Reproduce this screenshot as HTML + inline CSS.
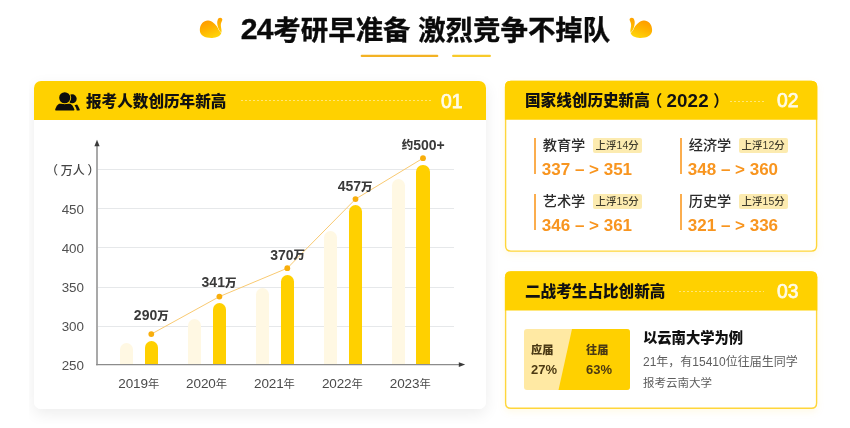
<!DOCTYPE html>
<html lang="zh-CN">
<head>
<meta charset="utf-8">
<title>24考研早准备 激烈竞争不掉队</title>
<style>
*{margin:0;padding:0;box-sizing:border-box}
html,body{width:850px;height:428px;overflow:hidden;background:#fff}
body{position:relative;font-family:"Liberation Sans","Noto Sans CJK SC",sans-serif;color:#111}
.abs{position:absolute;white-space:nowrap}
.title{left:239.6px;top:14.6px;font-size:27.45px;line-height:32px;font-weight:700;color:#0a0a0a;letter-spacing:0;-webkit-text-stroke:0.35px #0a0a0a}
.dg{font-size:30.2px;line-height:0;letter-spacing:-0.9px;margin-left:1.2px;margin-right:0.8px;position:relative;top:-0.9px}
.p1{margin-left:-3px;font-weight:700}.p2{margin-left:4.6px;font-weight:700}.d2{font-size:18.8px;line-height:0;font-weight:700;letter-spacing:0.15px;margin-left:4px;position:relative;top:0.3px}
.ul{position:absolute;height:2px;background:#fdb913;top:55px;border-radius:1px}
.card1{position:absolute;left:34px;top:81px;width:451.5px;height:327.6px;border-radius:7px;background:#fff}
.hd{position:absolute;left:0;top:0;right:0;height:39px;background:#ffd100;border-radius:7px 7px 0 0}
.hd .t{position:absolute;top:0.6px;line-height:39px;font-size:15.6px;font-weight:900;color:#111;white-space:nowrap}
.hd .n{position:absolute;top:0.6px;line-height:39px;font-size:19.3px;color:#fffbe6;white-space:nowrap;-webkit-text-stroke:0.75px #fffbe6}
.hd .d{position:absolute;top:19px;height:1px;background:repeating-linear-gradient(90deg,rgba(255,248,215,.55) 0 2.2px,transparent 2.2px 4px)}
.card2,.card3{position:absolute;left:505px;width:312.4px}
.card2{top:80.7px;height:171px}
.card3{top:271.2px;height:138px}
.card2 .hd,.card3 .hd{background:none;height:39px}
.vl{position:absolute;width:2px;background:#fbad4e}
.sub{font-size:14.2px;line-height:18px;color:#2a2a2a;font-weight:500}
.tag{font-size:10.5px;line-height:14.8px;height:14.8px;background:#fcebb0;color:#403c2c;border-radius:2px;text-align:center;font-weight:500}
.num{font-size:17px;line-height:18px;font-weight:700;color:#f8951f}
.gl{position:absolute;left:98px;width:355.500px;height:1px;background:#e6e8ea}
.yl{font-size:13.4px;line-height:16px;color:#505050;text-align:right;width:40px}
.xl{font-size:13.5px;line-height:16px;color:#4a4a4a;text-align:center;width:60px;letter-spacing:-0.1px}
.xl span{font-size:11.3px;position:relative;top:-0.3px}
.dl span{font-size:11.5px;font-weight:900;position:relative;top:-0.3px}
.bl{position:absolute;width:13px;background:#fff8e3;border-radius:6.5px 6.5px 0 0}
.by{position:absolute;width:13.6px;background:#ffd000;border-radius:6.8px 6.8px 0 0}
.dl{font-size:14px;line-height:14px;font-weight:700;color:#3a3a3a;text-align:center;width:60px}
</style>
</head>
<body>
<!-- title -->
<svg class="abs" style="left:190px;top:8px" width="60" height="40" viewBox="0 0 642 428">
  <defs><linearGradient id="g1" gradientUnits="userSpaceOnUse" x1="170" y1="120" x2="250" y2="325"><stop offset="0" stop-color="#ff9800"/><stop offset="0.5" stop-color="#ffb400"/><stop offset="1" stop-color="#ffd60a"/></linearGradient></defs>
  <path d="M105 235 C105 170 150 130 195 133 C240 136 270 175 300 212 C320 235 336 250 336 262 C330 300 280 322 230 320 C160 320 105 295 105 235 Z" fill="url(#g1)"/>
  <path d="M322 104 C340 104 350 118 345 132 C338 150 328 165 330 190 C332 215 342 240 336 264 C320 250 305 225 298 200 C290 170 288 150 296 128 C300 112 310 104 322 104 Z" fill="url(#g1)" stroke="#fff" stroke-width="11" paint-order="stroke fill"/>
</svg>
<div class="abs title"><span class="dg">24</span>考研早准备 激烈竞争不掉队</div>
<svg class="abs" style="left:610.6px;top:8px" width="60" height="40" viewBox="0 0 642 428">
  <g transform="translate(545 0) scale(-1 1)">
  <path d="M105 235 C105 170 150 130 195 133 C240 136 270 175 300 212 C320 235 336 250 336 262 C330 300 280 322 230 320 C160 320 105 295 105 235 Z" fill="url(#g1)"/>
  <path d="M322 104 C340 104 350 118 345 132 C338 150 328 165 330 190 C332 215 342 240 336 264 C320 250 305 225 298 200 C290 170 288 150 296 128 C300 112 310 104 322 104 Z" fill="url(#g1)" stroke="#fff" stroke-width="11" paint-order="stroke fill"/>
  </g>
</svg>
<svg class="abs" style="left:350px;top:50px" width="150" height="12" viewBox="0 0 150 12">
  <line x1="11.800" y1="5.900" x2="87.200" y2="5.900" stroke="#f3b224" stroke-width="2.300" stroke-linecap="round"/>
  <line x1="103.200" y1="5.900" x2="139.800" y2="5.900" stroke="#f8ca2a" stroke-width="2.300" stroke-linecap="round"/>
</svg>

<!-- card 1 -->
<div style="position:absolute;left:29px;top:70px;width:792px;height:353.5px;overflow:hidden">
  <div style="position:absolute;left:5px;top:11px;width:451.5px;height:327.6px;border-radius:7px;box-shadow:0 5px 15px rgba(0,0,0,.075)"></div>
</div>

<div class="card1">
  <div class="hd">
    <svg class="abs" style="left:16px;top:5.6px" width="36" height="28" viewBox="0 0 550 428">
      <path d="M80 340 C95 300 110 270 140 256 L310 256 C340 270 355 300 372 340 C375 352 368 360 358 360 L92 360 C82 360 77 352 80 340 Z" fill="#0d0d0d"/>
      <path d="M374 280 L414 266 C432 293 448 320 455 345 C456 355 450 361 441 361 L408 361 C405 330 392 302 374 280 Z" fill="#0d0d0d"/>
      <circle cx="340" cy="180" r="68" fill="#0d0d0d"/>
      <circle cx="225" cy="165" r="99" fill="#ffd100"/>
      <circle cx="225" cy="165" r="85" fill="#0d0d0d"/>
    </svg>
    <div class="t" style="left:52px">报考人数创历年新高</div>
    <div class="d" style="left:207px;width:190px"></div>
    <div class="n" style="left:407px">01</div>
  </div>
</div>

<!-- chart (page coordinates) -->
<div class="gl" style="top:169px"></div>
<div class="gl" style="top:208px"></div>
<div class="gl" style="top:247px"></div>
<div class="gl" style="top:287px"></div>
<div class="gl" style="top:326px"></div>
<div class="abs yl" style="left:46.1px;top:162.5px;font-size:12px;font-weight:500;width:60px;text-align:left;color:#444"><span style="margin-right:2.7px">（</span>万人<span style="margin-left:2.7px">）</span></div>
<div class="abs yl" style="left:44px;top:201.5px">450</div>
<div class="abs yl" style="left:44px;top:240.5px">400</div>
<div class="abs yl" style="left:44px;top:279.5px">350</div>
<div class="abs yl" style="left:44px;top:318.5px">300</div>
<div class="abs yl" style="left:44px;top:357.5px">250</div>

<div class="bl" style="left:120.1px;top:343px;height:22px"></div>
<div class="bl" style="left:188.2px;top:319px;height:46px"></div>
<div class="bl" style="left:256.3px;top:288px;height:77px"></div>
<div class="bl" style="left:324.0px;top:231px;height:134px"></div>
<div class="bl" style="left:391.6px;top:179px;height:186px"></div>
<div class="by" style="left:144.5px;top:341px;height:24px"></div>
<div class="by" style="left:212.6px;top:303px;height:62px"></div>
<div class="by" style="left:280.5px;top:275px;height:90px"></div>
<div class="by" style="left:348.7px;top:205px;height:160px"></div>
<div class="by" style="left:416.4px;top:165px;height:200px"></div>

<svg class="abs" style="left:0;top:0" width="850" height="428" viewBox="0 0 850 428">
  <polyline points="151.300,334.100 219.400,296.600 287.300,268.200 355.500,199.100 423,158.200" fill="none" stroke="#f9ca72" stroke-width="1"/>
  <g fill="#f8ae0c">
    <circle cx="151.3" cy="334.1" r="2.900"/><circle cx="219.4" cy="296.6" r="2.900"/><circle cx="287.3" cy="268.2" r="2.900"/><circle cx="355.5" cy="199.1" r="2.900"/><circle cx="423.0" cy="158.2" r="2.900"/>
  </g>
  <line x1="97" y1="145" x2="97" y2="365.300" stroke="#a0a0a0" stroke-width="1.800"/>
  <path d="M97 139.800 L99.600 146.200 L94.400 146.200 Z" fill="#3a3a3a"/>
  <line x1="96.100" y1="364.600" x2="459" y2="364.600" stroke="#8c8c8c" stroke-width="1.400"/>
  <path d="M465.200 364.600 L458.800 367 L458.800 362.200 Z" fill="#3a3a3a"/>
</svg>

<div class="abs dl" style="left:121.3px;top:308.2px">290<span>万</span></div>
<div class="abs dl" style="left:189px;top:275px">341<span>万</span></div>
<div class="abs dl" style="left:257.7px;top:247.5px">370<span>万</span></div>
<div class="abs dl" style="left:325.2px;top:179px">457<span>万</span></div>
<div class="abs dl" style="left:393.2px;top:137.5px"><span>约</span>500+</div>

<div class="abs xl" style="left:108.7px;top:376.1px">2019<span>年</span></div>
<div class="abs xl" style="left:176.5px;top:376.1px">2020<span>年</span></div>
<div class="abs xl" style="left:244.4px;top:376.1px">2021<span>年</span></div>
<div class="abs xl" style="left:312.3px;top:376.1px">2022<span>年</span></div>
<div class="abs xl" style="left:380.2px;top:376.1px">2023<span>年</span></div>

<!-- card 2 -->
<svg class="abs" style="left:0;top:0" width="850" height="428" viewBox="0 0 850 428">
  <defs><filter id="ys" x="-5%" y="-5%" width="110%" height="120%"><feDropShadow dx="0" dy="3" stdDeviation="3.5" flood-color="#ffc800" flood-opacity="0.09"/></filter></defs>
  <path d="M505.59999999999997 86.7 Q505.59999999999997 81.4 510.9 81.4 L811.3 81.4 Q816.5999999999999 81.4 816.5999999999999 86.7 L816.5999999999999 245.8 Q816.5999999999999 251.10000000000002 811.3 251.10000000000002 L510.9 251.10000000000002 Q505.59999999999997 251.10000000000002 505.59999999999997 245.8 Z" fill="#fff" stroke="#ffd63a" stroke-width="1.4" filter="url(#ys)"/>
  <path d="M504.9 119.8 L504.9 86.7 Q504.9 80.7 510.9 80.7 L811.3 80.7 Q817.3 80.7 817.3 86.7 L817.3 119.8 Z" fill="#ffd100"/>
  <path d="M505.59999999999997 277.2 Q505.59999999999997 271.9 510.9 271.9 L811.3 271.9 Q816.5999999999999 271.9 816.5999999999999 277.2 L816.5999999999999 402.9 Q816.5999999999999 408.2 811.3 408.2 L510.9 408.2 Q505.59999999999997 408.2 505.59999999999997 402.9 Z" fill="#fff" stroke="#ffd63a" stroke-width="1.4" filter="url(#ys)"/>
  <path d="M504.9 310.5 L504.9 277.2 Q504.9 271.2 510.9 271.2 L811.3 271.2 Q817.3 271.2 817.3 277.2 L817.3 310.5 Z" fill="#ffd100"/>
</svg>

<div class="card2">
  <div class="hd">
    <div class="t" style="left:20px;line-height:40px">国家线创历史新高<span class="p1">（</span><span class="d2">2022</span><span class="p2">）</span></div>
    <div class="d" style="left:225px;width:34px;top:20px"></div>
    <div class="n" style="left:272px;line-height:40px">02</div>
  </div>
</div>
<div class="vl" style="left:533.500px;top:138px;height:36px"></div>
<div class="vl" style="left:533.500px;top:194px;height:36px"></div>
<div class="vl" style="left:679.500px;top:138px;height:36px"></div>
<div class="vl" style="left:679.500px;top:194px;height:36px"></div>

<div class="abs sub" style="left:542.7px;top:136.4px">教育学</div>
<div class="abs tag" style="left:592.5px;top:137.8px;width:49.4px">上浮14分</div>
<div class="abs num" style="left:541.8px;top:161.3px">337 – &gt; 351</div>

<div class="abs sub" style="left:542.7px;top:192.4px">艺术学</div>
<div class="abs tag" style="left:592.5px;top:193.8px;width:49.4px">上浮15分</div>
<div class="abs num" style="left:541.8px;top:217.3px">346 – &gt; 361</div>

<div class="abs sub" style="left:688.7px;top:136.4px">经济学</div>
<div class="abs tag" style="left:738.5px;top:137.8px;width:49.4px">上浮12分</div>
<div class="abs num" style="left:687.8px;top:161.3px">348 – &gt; 360</div>

<div class="abs sub" style="left:688.7px;top:192.4px">历史学</div>
<div class="abs tag" style="left:738.5px;top:193.8px;width:49.4px">上浮15分</div>
<div class="abs num" style="left:687.8px;top:217.3px">321 – &gt; 336</div>

<!-- card 3 -->
<div class="card3">
  <div class="hd">
    <div class="t" style="left:20px;line-height:40px">二战考生占比创新高</div>
    <div class="d" style="left:174px;width:85px;top:20px"></div>
    <div class="n" style="left:272px;line-height:40px">03</div>
  </div>
</div>
<svg class="abs" style="left:524px;top:329px" width="106" height="61" viewBox="0 0 106 61">
  <rect x="0" y="0" width="106" height="61" rx="3" fill="#ffe9a3"/>
  <path d="M48 0 L103 0 Q106 0 106 3 L106 58 Q106 61 103 61 L34.500 61 Z" fill="#ffd000"/>
</svg>
<div class="abs" style="left:531px;top:343px;font-size:11.2px;line-height:14px;font-weight:900;color:#4a3914">应届</div>
<div class="abs" style="left:531px;top:362px;font-size:13px;line-height:16px;font-weight:700;color:#4d3a12">27%</div>
<div class="abs" style="left:586px;top:343px;font-size:11.2px;line-height:14px;font-weight:900;color:#4a3914">往届</div>
<div class="abs" style="left:586px;top:362px;font-size:13px;line-height:16px;font-weight:700;color:#4d3a12">63%</div>

<div class="abs" style="left:643px;top:328px;font-size:14.3px;line-height:20px;font-weight:900;color:#111">以云南大学为例</div>
<div class="abs" style="left:643px;top:351.7px;font-size:12px;line-height:20px;color:#5e5e5e">21年，有15410位往届生同学</div>
<div class="abs" style="left:643px;top:373.4px;font-size:11.5px;line-height:20px;color:#5e5e5e">报考云南大学</div>
</body>
</html>
